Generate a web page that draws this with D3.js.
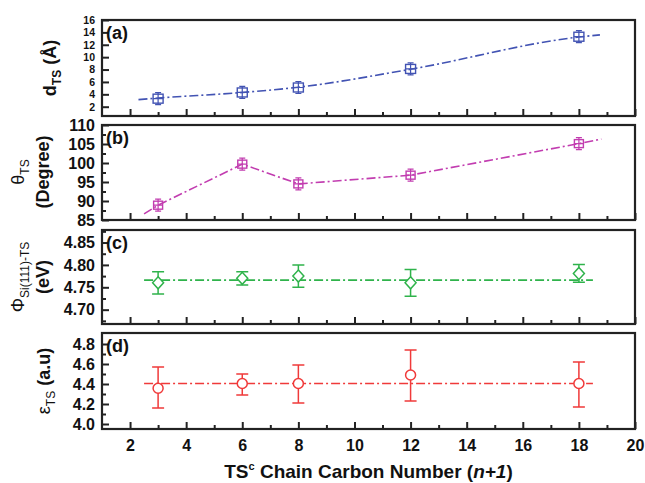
<!DOCTYPE html>
<html>
<head>
<meta charset="utf-8">
<script src="https://cdn.jsdelivr.net/npm/d3@7"></script>
<style>
  body { margin: 0; background: #fff; }
  text { font-family: Arial, "Liberation Sans", sans-serif; }
</style>
</head>
<body>
<script>
// chain carbon numbers
const carbons = [3, 6, 8, 12, 18];

// (a) d_TS
const dTS = [3.3, 4.3, 5.1, 8.1, 13.3];
const fitA = [[2.3, 3.15], [3, 3.4], [6, 4.3], [8, 5.15], [12, 8.05], [18, 13.25], [18.75, 13.6]];

// (b) theta_TS
const thetaTS = [88.9, 99.7, 94.5, 96.8, 105.1];
const fitB = [[2.5, 86.6], [3, 88.9], [6, 99.7], [8, 94.5], [12, 96.8], [18, 105.1], [18.8, 106.3]];

// (c) work function
const phiTS = [4.760, 4.770, 4.775, 4.760, 4.781];
const phiErr = [0.025, 0.015, 0.025, 0.030, 0.020];
const phiMean = 4.766;

// (d) dielectric constant
const epsTS = [4.357, 4.405, 4.405, 4.49, 4.405];
const epsLo = [4.16, 4.29, 4.21, 4.23, 4.17];
const epsHi = [4.57, 4.50, 4.59, 4.74, 4.62];
const epsMean = 4.405;

const xTickValues = [2, 4, 6, 8, 10, 12, 14, 16, 18, 20];
const yTicksA = [2, 4, 6, 8, 10, 12, 14, 16];
const yTicksB = [85, 90, 95, 100, 105, 110];
const yTicksC = [4.70, 4.75, 4.80, 4.85];
const yTicksD = [4.0, 4.2, 4.4, 4.6, 4.8];

const width = 645;
const height = 483;

const svg = d3.select("body").append("svg")
  .attr("width", width)
  .attr("height", height);

const x = d3.scaleLinear().domain([1, 20]).range([102, 635]);

const panels = [
  { id: "a", top: 20, bottom: 116, domain: [0.5, 16], ticks: yTicksA, minor: [], fmt: d3.format("d"), fs: 10.5, color: "#4253b3" },
  { id: "b", top: 125, bottom: 220, domain: [85, 110], ticks: yTicksB, minor: [87.5, 92.5, 97.5, 102.5, 107.5], fmt: d3.format("d"), fs: 16, color: "#c23db0" },
  { id: "c", top: 230, bottom: 324, domain: [4.668, 4.878], ticks: yTicksC, minor: [4.675, 4.725, 4.775, 4.825, 4.875], fmt: d3.format(".2f"), fs: 16, color: "#2fb34b" },
  { id: "d", top: 333, bottom: 429, domain: [3.95, 4.91], ticks: yTicksD, minor: [4.1, 4.3, 4.5, 4.7], fmt: d3.format(".1f"), fs: 16, color: "#f03a3a" }
];

const dashDot = "9,3,2,3";

panels.forEach((p, i) => {
  const y = d3.scaleLinear().domain(p.domain).range([p.bottom, p.top]);
  p.y = y;
  const g = svg.append("g");

  // x ticks (inward)
  const xAxis = g.append("g")
    .attr("transform", `translate(0,${p.bottom})`)
    .call(d3.axisBottom(x).tickValues(xTickValues).tickSizeInner(-7).tickSizeOuter(0)
      .tickFormat(i === panels.length - 1 ? d3.format("d") : ""));
  xAxis.select(".domain").remove();
  xAxis.selectAll(".tick line").attr("stroke", "#222").attr("stroke-width", 2);
  xAxis.selectAll(".tick text")
    .attr("y", 11)
    .attr("font-size", 16).attr("font-weight", "bold").attr("fill", "#111");
  const xMinor = g.append("g")
    .attr("transform", `translate(0,${p.bottom})`)
    .call(d3.axisBottom(x).tickValues([3, 5, 7, 9, 11, 13, 15, 17, 19]).tickSizeInner(-4).tickSizeOuter(0).tickFormat(""));
  xMinor.select(".domain").remove();
  xMinor.selectAll(".tick line").attr("stroke", "#222").attr("stroke-width", 2);

  // y ticks (inward)
  const yAxis = g.append("g")
    .attr("transform", `translate(${x.range()[0]},0)`)
    .call(d3.axisLeft(y).tickValues(p.ticks).tickSizeInner(-7).tickSizeOuter(0).tickFormat(p.fmt));
  yAxis.select(".domain").remove();
  yAxis.selectAll(".tick line").attr("stroke", "#222").attr("stroke-width", 2);
  yAxis.selectAll(".tick text")
    .attr("x", -7)
    .attr("font-size", p.fs).attr("font-weight", "bold").attr("fill", "#111");
  if (p.minor.length) {
    const yMinor = g.append("g")
      .attr("transform", `translate(${x.range()[0]},0)`)
      .call(d3.axisLeft(y).tickValues(p.minor).tickSizeInner(-4).tickSizeOuter(0).tickFormat(""));
    yMinor.select(".domain").remove();
    yMinor.selectAll(".tick line").attr("stroke", "#222").attr("stroke-width", 2);
  }

  // frame
  g.append("rect")
    .attr("x", x.range()[0])
    .attr("y", p.top)
    .attr("width", x.range()[1] - x.range()[0])
    .attr("height", p.bottom - p.top)
    .attr("fill", "none")
    .attr("stroke", "#222")
    .attr("stroke-width", 2.2);

  // panel letter
  g.append("text")
    .attr("x", x.range()[0] + 4)
    .attr("y", p.top + 19)
    .attr("font-size", 18).attr("font-weight", "bold").attr("fill", "#111")
    .text(`(${p.id})`);
});

const line = d3.line().x(d => x(d[0]));

// (a)
{
  const p = panels[0], y = p.y;
  svg.append("path")
    .datum(fitA)
    .attr("d", line.y(d => y(d[1])).curve(d3.curveMonotoneX))
    .attr("fill", "none").attr("stroke", p.color).attr("stroke-width", 1.6)
    .attr("stroke-dasharray", dashDot);
  const m = svg.append("g").selectAll("g").data(carbons).join("g")
    .attr("transform", (d, i) => `translate(${x(d)},${y(dTS[i])})`);
  m.append("rect").attr("x", -5).attr("y", -4.5).attr("width", 10).attr("height", 9)
    .attr("fill", "none").attr("stroke", p.color).attr("stroke-width", 1.4);
  m.append("path").attr("d", "M-5,0H5M0,-6V6M-3,-6H3M-3,6H3")
    .attr("stroke", p.color).attr("stroke-width", 1.2);
}

// (b)
{
  const p = panels[1], y = p.y;
  svg.append("path")
    .datum(fitB)
    .attr("d", line.y(d => y(d[1])).curve(d3.curveLinear))
    .attr("fill", "none").attr("stroke", p.color).attr("stroke-width", 1.6)
    .attr("stroke-dasharray", dashDot);
  const m = svg.append("g").selectAll("g").data(carbons).join("g")
    .attr("transform", (d, i) => `translate(${x(d)},${y(thetaTS[i])})`);
  m.append("rect").attr("x", -4.5).attr("y", -4).attr("width", 9).attr("height", 8)
    .attr("fill", "none").attr("stroke", p.color).attr("stroke-width", 1.4);
  m.append("path").attr("d", "M-4.5,0H4.5M0,-6V6M-3,-6H3M-3,6H3")
    .attr("stroke", p.color).attr("stroke-width", 1.2);
}

// (c)
{
  const p = panels[2], y = p.y;
  svg.append("line")
    .attr("x1", x(2.5)).attr("x2", x(18.5))
    .attr("y1", y(phiMean)).attr("y2", y(phiMean))
    .attr("stroke", p.color).attr("stroke-width", 1.6)
    .attr("stroke-dasharray", dashDot);
  const m = svg.append("g").selectAll("g").data(carbons).join("g");
  m.append("path")
    .attr("d", (d, i) => {
      const cx = x(d), t = y(phiTS[i] + phiErr[i]), b = y(phiTS[i] - phiErr[i]);
      return `M${cx},${t}V${b}M${cx - 6},${t}H${cx + 6}M${cx - 6},${b}H${cx + 6}`;
    })
    .attr("stroke", p.color).attr("stroke-width", 1.5).attr("fill", "none");
  m.append("path")
    .attr("d", (d, i) => {
      const cx = x(d), cy = y(phiTS[i]);
      return `M${cx},${cy - 6}L${cx + 5.5},${cy}L${cx},${cy + 6}L${cx - 5.5},${cy}Z`;
    })
    .attr("fill", "#fff").attr("stroke", p.color).attr("stroke-width", 1.5);
}

// (d)
{
  const p = panels[3], y = p.y;
  svg.append("line")
    .attr("x1", x(2.5)).attr("x2", x(18.5))
    .attr("y1", y(epsMean)).attr("y2", y(epsMean))
    .attr("stroke", p.color).attr("stroke-width", 1.6)
    .attr("stroke-dasharray", dashDot);
  const m = svg.append("g").selectAll("g").data(carbons).join("g");
  m.append("path")
    .attr("d", (d, i) => {
      const cx = x(d), t = y(epsHi[i]), b = y(epsLo[i]);
      return `M${cx},${t}V${b}M${cx - 6},${t}H${cx + 6}M${cx - 6},${b}H${cx + 6}`;
    })
    .attr("stroke", p.color).attr("stroke-width", 1.5).attr("fill", "none");
  m.append("circle")
    .attr("cx", d => x(d))
    .attr("cy", (d, i) => y(epsTS[i]))
    .attr("r", 5)
    .attr("fill", "#fff").attr("stroke", p.color).attr("stroke-width", 1.5);
}

// y titles
function rotLabel(cx, cy) {
  return svg.append("text")
    .attr("transform", `translate(${cx},${cy}) rotate(-90)`)
    .attr("text-anchor", "middle")
    .attr("fill", "#111");
}

let t = rotLabel(56, 68).attr("font-size", 18).attr("font-weight", "bold");
t.append("tspan").text("d");
t.append("tspan").attr("font-size", 12).attr("dy", 5).text("TS");
t.append("tspan").attr("dy", -5).text(" (Å)");

t = rotLabel(24, 172).attr("font-size", 18);
t.append("tspan").text("θ");
t.append("tspan").attr("font-size", 12).attr("dy", 5).text("TS");

rotLabel(49, 172).attr("font-size", 18).attr("font-weight", "bold").text("(Degree)");

t = rotLabel(24, 277).attr("font-size", 18);
t.append("tspan").text("Φ");
t.append("tspan").attr("font-size", 12).attr("dy", 5).text("Si(111)-TS");

rotLabel(49, 277).attr("font-size", 18).attr("font-weight", "bold").text("(eV)");

t = rotLabel(50, 381).attr("font-size", 18).attr("font-weight", "bold");
t.append("tspan").attr("font-weight", "normal").text("ε");
t.append("tspan").attr("font-size", 12).attr("font-weight", "normal").attr("dy", 5).text("TS");
t.append("tspan").attr("dy", -5).text(" (a.u)");

// x title
const xt = svg.append("text")
  .attr("x", (x.range()[0] + x.range()[1]) / 2)
  .attr("y", 478)
  .attr("text-anchor", "middle")
  .attr("font-size", 19).attr("font-weight", "bold").attr("fill", "#111");
xt.append("tspan").text("TS");
xt.append("tspan").attr("font-size", 11).attr("dy", -8).text("c");
xt.append("tspan").attr("dy", 8).text(" Chain Carbon Number (");
xt.append("tspan").attr("font-style", "italic").text("n+1");
xt.append("tspan").text(")");
</script>
</body>
</html>
